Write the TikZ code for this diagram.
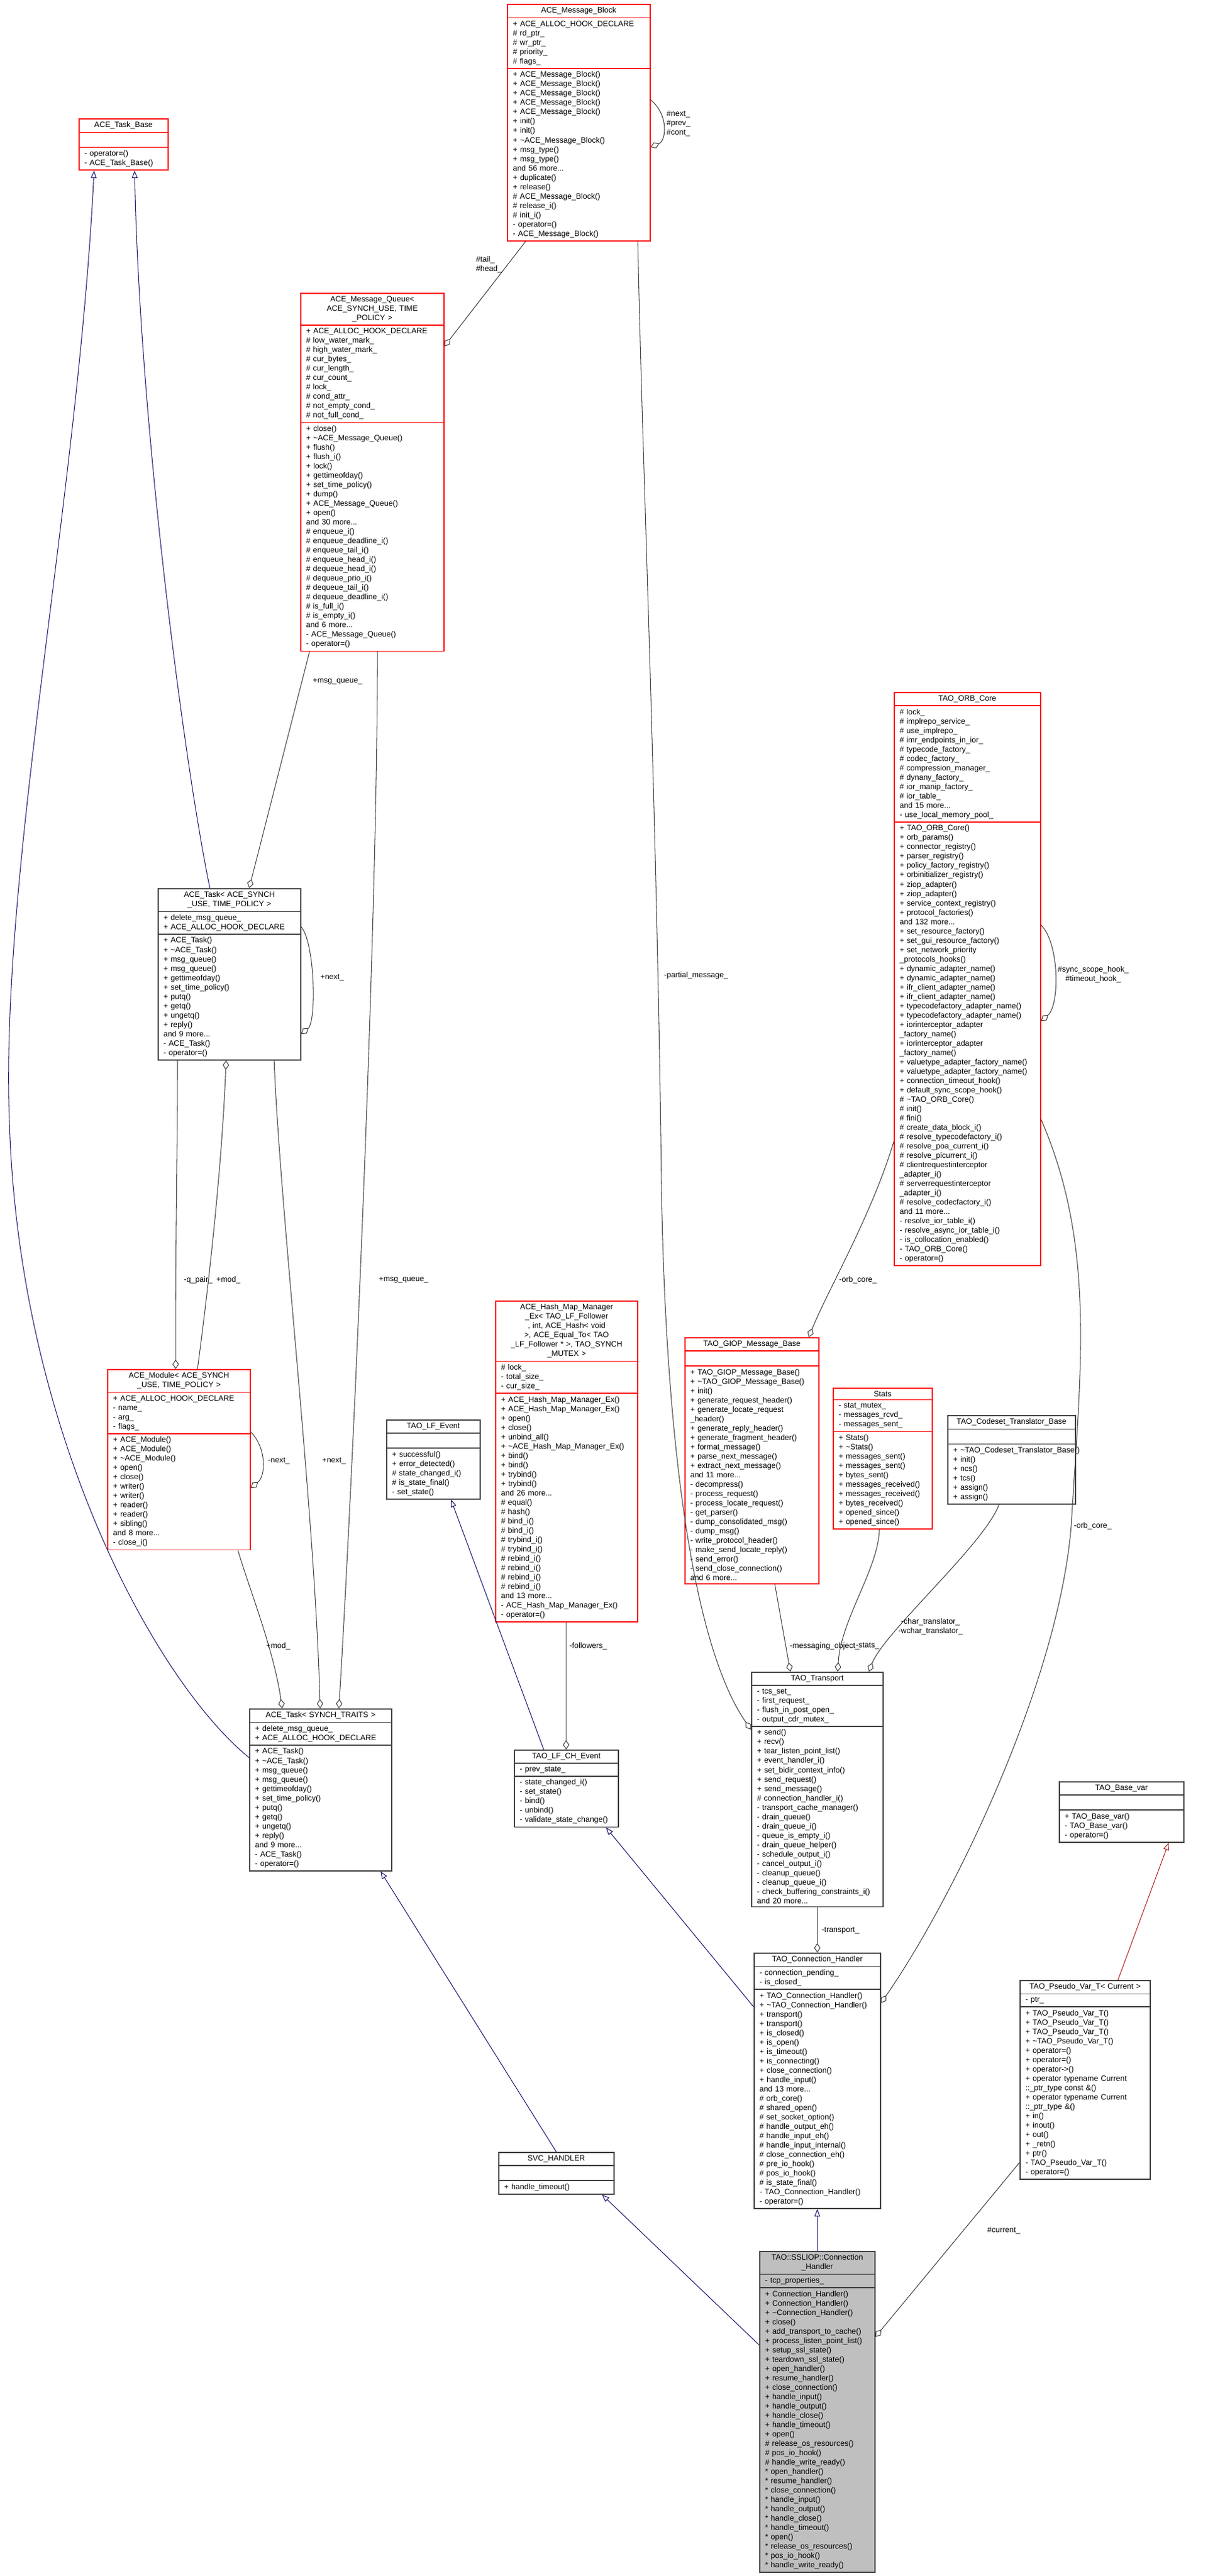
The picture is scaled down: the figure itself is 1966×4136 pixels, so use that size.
\documentclass[tikz,border=0pt]{standalone}
\usepackage{fontspec}
\setmainfont{Liberation Sans}
\usetikzlibrary{shapes.multipart,arrows.meta}
\definecolor{edgegray}{HTML}{404040}
\definecolor{inhblue}{HTML}{191970}
\definecolor{inhred}{HTML}{B22222}
\definecolor{boxred}{HTML}{FF0000}
\newdimen\pxu \pxu=0.01cm
\newcommand\tld{\textasciitilde}
\newcommand\nil{\rule{0pt}{4pt}}
\newcommand\nohyph{\hyphenpenalty=10000\relax\exhyphenpenalty=10000\relax}
\tikzset{
  cls/.style={rectangle split, rectangle split parts=3, draw=edgegray, line width=0.45pt,
    anchor=north west, inner xsep=2.5pt, inner ysep=1.2pt, align=left, fill=white,
    font=\fontsize{3.55}{4.27}\selectfont\nohyph},
  trunc/.style={draw=boxred},
  focus/.style={fill=black!25},
  agg/.style={edgegray, line width=0.3pt, {Diamond[open,length=4.3pt,width=2.9pt]}-},
  inh/.style={inhblue, line width=0.3pt, {Triangle[open,length=3.4pt,width=2.6pt]}-},
  inhr/.style={inh, inhred},
  lbl/.style={font=\fontsize{3.55}{4.27}\selectfont, inner sep=0.5pt}
}
% class box: name, x, y, width (px), style, title, attributes, methods
\newcommand\umlclass[8]{\node[cls,#5,text width=\dimexpr#4\pxu-5pt\relax] (#1) at (#2,#3)
  {{\centering #6\par}\nodepart{second}#7\nodepart{third}#8};}
\catcode`\_=12
\begin{document}
\begin{tikzpicture}[x=0.01cm, y=-0.01cm]
\useasboundingbox (0,0) rectangle (1966,4136);

\umlclass{msgblock}{814}{6}{229}{trunc}{ACE_Message_Block}
 {+ ACE_ALLOC_HOOK_DECLARE\\\# rd_ptr_\\\# wr_ptr_\\\# priority_\\\# flags_}
 {+ ACE_Message_Block()\\+ ACE_Message_Block()\\+ ACE_Message_Block()\\+ ACE_Message_Block()\\+ ACE_Message_Block()\\+ init()\\+ init()\\+ \tld ACE_Message_Block()\\+ msg_type()\\+ msg_type()\\and 56 more...\\+ duplicate()\\+ release()\\\# ACE_Message_Block()\\\# release_i()\\\# init_i()\\- operator=()\\- ACE_Message_Block()}
\umlclass{msgqueue}{482}{470}{230}{trunc}{ACE_Message_Queue<\\ ACE_SYNCH_USE, TIME\\ _POLICY >}
 {+ ACE_ALLOC_HOOK_DECLARE\\\# low_water_mark_\\\# high_water_mark_\\\# cur_bytes_\\\# cur_length_\\\# cur_count_\\\# lock_\\\# cond_attr_\\\# not_empty_cond_\\\# not_full_cond_}
 {+ close()\\+ \tld ACE_Message_Queue()\\+ flush()\\+ flush_i()\\+ lock()\\+ gettimeofday()\\+ set_time_policy()\\+ dump()\\+ ACE_Message_Queue()\\+ open()\\and 30 more...\\\# enqueue_i()\\\# enqueue_deadline_i()\\\# enqueue_tail_i()\\\# enqueue_head_i()\\\# dequeue_head_i()\\\# dequeue_prio_i()\\\# dequeue_tail_i()\\\# dequeue_deadline_i()\\\# is_full_i()\\\# is_empty_i()\\and 6 more...\\- ACE_Message_Queue()\\- operator=()}
\umlclass{taskbase}{126}{190}{143}{trunc}{ACE_Task_Base}{\nil}{- operator=()\\- ACE_Task_Base()}
\umlclass{task}{253}{1426}{229}{}{ACE_Task< ACE_SYNCH\\ _USE, TIME_POLICY >}
 {+ delete_msg_queue_\\+ ACE_ALLOC_HOOK_DECLARE}
 {+ ACE_Task()\\+ \tld ACE_Task()\\+ msg_queue()\\+ msg_queue()\\+ gettimeofday()\\+ set_time_policy()\\+ putq()\\+ getq()\\+ ungetq()\\+ reply()\\and 9 more...\\- ACE_Task()\\- operator=()}
\umlclass{module}{172}{2198}{229}{trunc}{ACE_Module< ACE_SYNCH\\ _USE, TIME_POLICY >}
 {+ ACE_ALLOC_HOOK_DECLARE\\- name_\\- arg_\\- flags_}
 {+ ACE_Module()\\+ ACE_Module()\\+ \tld ACE_Module()\\+ open()\\+ close()\\+ writer()\\+ writer()\\+ reader()\\+ reader()\\+ sibling()\\and 8 more...\\- close_i()}
\umlclass{tasksynch}{400}{2743}{228}{}{ACE_Task< SYNCH_TRAITS >}
 {+ delete_msg_queue_\\+ ACE_ALLOC_HOOK_DECLARE}
 {+ ACE_Task()\\+ \tld ACE_Task()\\+ msg_queue()\\+ msg_queue()\\+ gettimeofday()\\+ set_time_policy()\\+ putq()\\+ getq()\\+ ungetq()\\+ reply()\\and 9 more...\\- ACE_Task()\\- operator=()}
\umlclass{svchandler}{800}{3455}{185}{}{SVC_HANDLER}{\nil}{+ handle_timeout()}
\umlclass{lfevent}{620}{2279}{150}{}{TAO_LF_Event}{\nil}
 {+ successful()\\+ error_detected()\\\# state_changed_i()\\\# is_state_final()\\- set_state()}
\umlclass{hashmap}{795}{2088}{228}{trunc}{ACE_Hash_Map_Manager\\_Ex< TAO_LF_Follower\\ *, int, ACE_Hash< void\\ * >, ACE_Equal_To< TAO\\_LF_Follower * >, TAO_SYNCH\\_MUTEX >}
 {\# lock_\\- total_size_\\- cur_size_}
 {+ ACE_Hash_Map_Manager_Ex()\\+ ACE_Hash_Map_Manager_Ex()\\+ open()\\+ close()\\+ unbind_all()\\+ \tld ACE_Hash_Map_Manager_Ex()\\+ bind()\\+ bind()\\+ trybind()\\+ trybind()\\and 26 more...\\\# equal()\\\# hash()\\\# bind_i()\\\# bind_i()\\\# trybind_i()\\\# trybind_i()\\\# rebind_i()\\\# rebind_i()\\\# rebind_i()\\\# rebind_i()\\and 13 more...\\- ACE_Hash_Map_Manager_Ex()\\- operator=()}
\umlclass{lfchevent}{825}{2809}{167}{}{TAO_LF_CH_Event}{- prev_state_}
 {- state_changed_i()\\- set_state()\\- bind()\\- unbind()\\- validate_state_change()}
\umlclass{orbcore}{1435}{1111}{235}{trunc}{TAO_ORB_Core}
 {\# lock_\\\# implrepo_service_\\\# use_implrepo_\\\# imr_endpoints_in_ior_\\\# typecode_factory_\\\# codec_factory_\\\# compression_manager_\\\# dynany_factory_\\\# ior_manip_factory_\\\# ior_table_\\and 15 more...\\- use_local_memory_pool_}
 {+ TAO_ORB_Core()\\+ orb_params()\\+ connector_registry()\\+ parser_registry()\\+ policy_factory_registry()\\+ orbinitializer_registry()\\+ ziop_adapter()\\+ ziop_adapter()\\+ service_context_registry()\\+ protocol_factories()\\and 132 more...\\+ set_resource_factory()\\+ set_gui_resource_factory()\\+ set_network_priority\\_protocols_hooks()\\+ dynamic_adapter_name()\\+ dynamic_adapter_name()\\+ ifr_client_adapter_name()\\+ ifr_client_adapter_name()\\+ typecodefactory_adapter_name()\\+ typecodefactory_adapter_name()\\+ iorinterceptor_adapter\\_factory_name()\\+ iorinterceptor_adapter\\_factory_name()\\+ valuetype_adapter_factory_name()\\+ valuetype_adapter_factory_name()\\+ connection_timeout_hook()\\+ default_sync_scope_hook()\\\# \tld TAO_ORB_Core()\\\# init()\\\# fini()\\\# create_data_block_i()\\\# resolve_typecodefactory_i()\\\# resolve_poa_current_i()\\\# resolve_picurrent_i()\\\# clientrequestinterceptor\\_adapter_i()\\\# serverrequestinterceptor\\_adapter_i()\\\# resolve_codecfactory_i()\\and 11 more...\\- resolve_ior_table_i()\\- resolve_async_ior_table_i()\\- is_collocation_enabled()\\- TAO_ORB_Core()\\- operator=()}
\umlclass{giop}{1099}{2147}{215}{trunc}{TAO_GIOP_Message_Base}{\nil}
 {+ TAO_GIOP_Message_Base()\\+ \tld TAO_GIOP_Message_Base()\\+ init()\\+ generate_request_header()\\+ generate_locate_request\\_header()\\+ generate_reply_header()\\+ generate_fragment_header()\\+ format_message()\\+ parse_next_message()\\+ extract_next_message()\\and 11 more...\\- decompress()\\- process_request()\\- process_locate_request()\\- get_parser()\\- dump_consolidated_msg()\\- dump_msg()\\- write_protocol_header()\\- make_send_locate_reply()\\- send_error()\\- send_close_connection()\\and 6 more...}
\umlclass{stats}{1337}{2228}{159}{trunc}{Stats}
 {- stat_mutex_\\- messages_rcvd_\\- messages_sent_}
 {+ Stats()\\+ \tld Stats()\\+ messages_sent()\\+ messages_sent()\\+ bytes_sent()\\+ messages_received()\\+ messages_received()\\+ bytes_received()\\+ opened_since()\\+ opened_since()}
\umlclass{codeset}{1521}{2272}{205}{}{TAO_Codeset_Translator_Base}{\nil}
 {+~\tld TAO_Codeset_Translator_Base()\\+ init()\\+ ncs()\\+ tcs()\\+ assign()\\+ assign()}
\umlclass{transport}{1206}{2684}{211}{}{TAO_Transport}
 {- tcs_set_\\- first_request_\\- flush_in_post_open_\\- output_cdr_mutex_}
 {+ send()\\+ recv()\\+ tear_listen_point_list()\\+ event_handler_i()\\+ set_bidir_context_info()\\+ send_request()\\+ send_message()\\\# connection_handler_i()\\- transport_cache_manager()\\- drain_queue()\\- drain_queue_i()\\- queue_is_empty_i()\\- drain_queue_helper()\\- schedule_output_i()\\- cancel_output_i()\\- cleanup_queue()\\- cleanup_queue_i()\\- check_buffering_constraints_i()\\and 20 more...}
\umlclass{connhandler}{1210}{3135}{203}{}{TAO_Connection_Handler}
 {- connection_pending_\\- is_closed_}
 {+ TAO_Connection_Handler()\\+ \tld TAO_Connection_Handler()\\+ transport()\\+ transport()\\+ is_closed()\\+ is_open()\\+ is_timeout()\\+ is_connecting()\\+ close_connection()\\+ handle_input()\\and 13 more...\\\# orb_core()\\\# shared_open()\\\# set_socket_option()\\\# handle_output_eh()\\\# handle_input_eh()\\\# handle_input_internal()\\\# close_connection_eh()\\\# pre_io_hook()\\\# pos_io_hook()\\\# is_state_final()\\- TAO_Connection_Handler()\\- operator=()}
\umlclass{basevar}{1700}{2860}{200}{}{TAO_Base_var}{\nil}
 {+ TAO_Base_var()\\- TAO_Base_var()\\- operator=()}
\umlclass{pseudovar}{1637}{3179}{209}{}{TAO_Pseudo_Var_T< Current >}{- ptr_}
 {+ TAO_Pseudo_Var_T()\\+ TAO_Pseudo_Var_T()\\+ TAO_Pseudo_Var_T()\\+ \tld TAO_Pseudo_Var_T()\\+ operator=()\\+ operator=()\\+ operator->()\\+ operator typename Current\\::_ptr_type const \&()\\+ operator typename Current\\::_ptr_type \&()\\+ in()\\+ inout()\\+ out()\\+ _retn()\\+ ptr()\\- TAO_Pseudo_Var_T()\\- operator=()}
\umlclass{ssliop}{1219}{3614}{185}{focus}{TAO::SSLIOP::Connection\\_Handler}
 {- tcp_properties_}
 {+ Connection_Handler()\\+ Connection_Handler()\\+ \tld Connection_Handler()\\+ close()\\+ add_transport_to_cache()\\+ process_listen_point_list()\\+ setup_ssl_state()\\+ teardown_ssl_state()\\+ open_handler()\\+ resume_handler()\\+ close_connection()\\+ handle_input()\\+ handle_output()\\+ handle_close()\\+ handle_timeout()\\+ open()\\\# release_os_resources()\\\# pos_io_hook()\\\# handle_write_ready()\\\relax* open_handler()\\\relax* resume_handler()\\\relax* close_connection()\\\relax* handle_input()\\\relax* handle_output()\\\relax* handle_close()\\\relax* handle_timeout()\\\relax* open()\\\relax* release_os_resources()\\\relax* pos_io_hook()\\\relax* handle_write_ready()}

% message block links
\draw[agg] ([yshift=-2.3cm]msgblock.north east) .. controls +(25,-10) and +(30,25) .. ([yshift=-1.54cm]msgblock.north east);
\node[lbl, anchor=west, align=left] (lnext) at (1068,198) {\#next_\\\#prev_\\\#cont_};
\draw[agg] ([yshift=-0.86cm]msgqueue.north east) -- ([xshift=0.3cm]msgblock.south west);
\node[lbl, anchor=west, align=left] (ltail) at (762,425) {\#tail_\\\#head_};
\draw[agg] ([yshift=-0.93cm]transport.north west) .. controls (1110,2640) and (1068,2300) .. (1062,1900)
  .. controls (1055,1300) and (1030,700) .. ([xshift=2.1cm]msgblock.south west);
\node[lbl, anchor=west] (lpartial) at (1064,1566) {-partial_message_};

% queue links
\draw[agg] ([xshift=1.47cm]task.north west) -- ([xshift=0.15cm]msgqueue.south west);
\node[lbl, anchor=west] (lmq1) at (500,1094) {+msg_queue_};
\draw[agg] ([xshift=1.44cm]tasksynch.north west) .. controls (565,2400) and (606,1500) .. ([xshift=1.24cm]msgqueue.south west);
\node[lbl, anchor=west] (lmq2) at (606,2055) {+msg_queue_};

% task base inheritance
\draw[inh] ([xshift=0.9cm]taskbase.south west) .. controls (225,700) and (300,1250) .. ([xshift=0.84cm]task.north west);
\draw[inh] ([xshift=0.25cm]taskbase.south west) .. controls (125,800) and (0,1400) .. (15,1800)
  .. controls (30,2300) and (250,2700) .. ([yshift=-0.79cm]tasksynch.north west);

% task and module links
\draw[agg] ([yshift=-2.34cm]task.north east) .. controls +(25,-20) and +(22,25) .. ([yshift=-0.62cm]task.north east);
\node[lbl, anchor=west] (ltnext) at (512,1570) {+next_};
\draw[agg] ([xshift=1.1cm]module.north west) .. controls (282,1950) and (285,1850) .. ([xshift=0.32cm]task.south west);
\node[lbl, anchor=west] (lqpair) at (293,2055) {-q_pair_};
\draw[agg] ([xshift=1.1cm]task.south west) .. controls (355,1900) and (330,2100) .. ([xshift=1.45cm]module.north west);
\node[lbl, anchor=west] (lmod1) at (345,2055) {+mod_};
\draw[agg] ([xshift=1.14cm]tasksynch.north west) .. controls (505,2420) and (450,1950) .. ([xshift=1.87cm]task.south west);
\node[lbl, anchor=west] (lnext2) at (515,2346) {+next_};
\draw[agg] ([yshift=-1.91cm]module.north east) .. controls +(25,-20) and +(25,25) .. ([yshift=-1.01cm]module.north east);
\node[lbl, anchor=west] (lmnext) at (428,2346) {-next_};
\draw[agg] ([xshift=0.53cm]tasksynch.north west) .. controls (440,2650) and (400,2550) .. ([xshift=2.1cm]module.south west);
\node[lbl, anchor=west] (lmod2) at (425,2643) {+mod_};

% handler inheritance
\draw[inh] ([xshift=1.04cm]lfevent.south west) -- ([xshift=0.48cm]lfchevent.north west);
\draw[agg] ([xshift=0.84cm]lfchevent.north west) -- ([xshift=1.14cm]hashmap.south west);
\node[lbl, anchor=west] (lfollow) at (912,2643) {-followers_};
\draw[inh] ([xshift=1.48cm]lfchevent.south west) -- ([yshift=-0.87cm]connhandler.north west);
\draw[inh] ([xshift=2.11cm]tasksynch.south west) -- (svchandler.north);
\draw[inh] ([xshift=-0.2cm]svchandler.south east) -- ([yshift=-1.51cm]ssliop.north west);
\draw[inh] (connhandler.south) -- (ssliop.north);

% transport and orb core links
\draw[agg] (connhandler.north) -- (transport.south);
\node[lbl, anchor=west] (ltrans) at (1317,3100) {-transport_};
\draw[agg] ([yshift=-0.81cm]connhandler.north east) .. controls (1530,3050) and (1700,2700) .. (1720,2450)
  .. controls (1735,2200) and (1760,2000) .. ([yshift=-6.86cm]orbcore.north east);
\node[lbl, anchor=west] (lorb1) at (1722,2450) {-orb_core_};
\draw[agg] ([xshift=-0.17cm]giop.north east) .. controls (1330,2070) and (1400,1950) .. ([yshift=-7.22cm]orbcore.north west);
\node[lbl, anchor=west] (lorb2) at (1345,2055) {-orb_core_};
\draw[agg] ([yshift=-5.28cm]orbcore.north east) .. controls +(30,-25) and +(30,30) .. ([yshift=-3.74cm]orbcore.north east);
\node[lbl, anchor=west, align=center] (lhook) at (1696,1565) {\#sync_scope_hook_\\\#timeout_hook_};
\draw[agg] ([xshift=0.63cm]transport.north west) -- ([xshift=1.45cm]giop.south west);
\node[lbl, anchor=west] (lmsgobj) at (1266,2643) {-messaging_object_};
\draw[agg] ([xshift=1.39cm]transport.north west) .. controls (1350,2600) and (1410,2520) .. ([xshift=0.75cm]stats.south west);
\node[lbl, anchor=west] (lstats) at (1372,2643) {-stats_};
\draw[agg] ([xshift=1.89cm]transport.north west) .. controls (1420,2620) and (1580,2480) .. ([xshift=0.83cm]codeset.south west);
\node[lbl, anchor=west, align=center] (ltrans2) at (1440,2612) {-char_translator_\\-wchar_translator_};

% pseudo var links
\draw[inhr] ([xshift=-0.25cm]basevar.south east) -- ([xshift=1.58cm]pseudovar.north west);
\draw[agg] ([yshift=-1.38cm]ssliop.north east) -- ([yshift=-2.93cm]pseudovar.north west);
\node[lbl, anchor=west] (lcurrent) at (1583,3581) {\#current_};
\end{tikzpicture}
\end{document}
